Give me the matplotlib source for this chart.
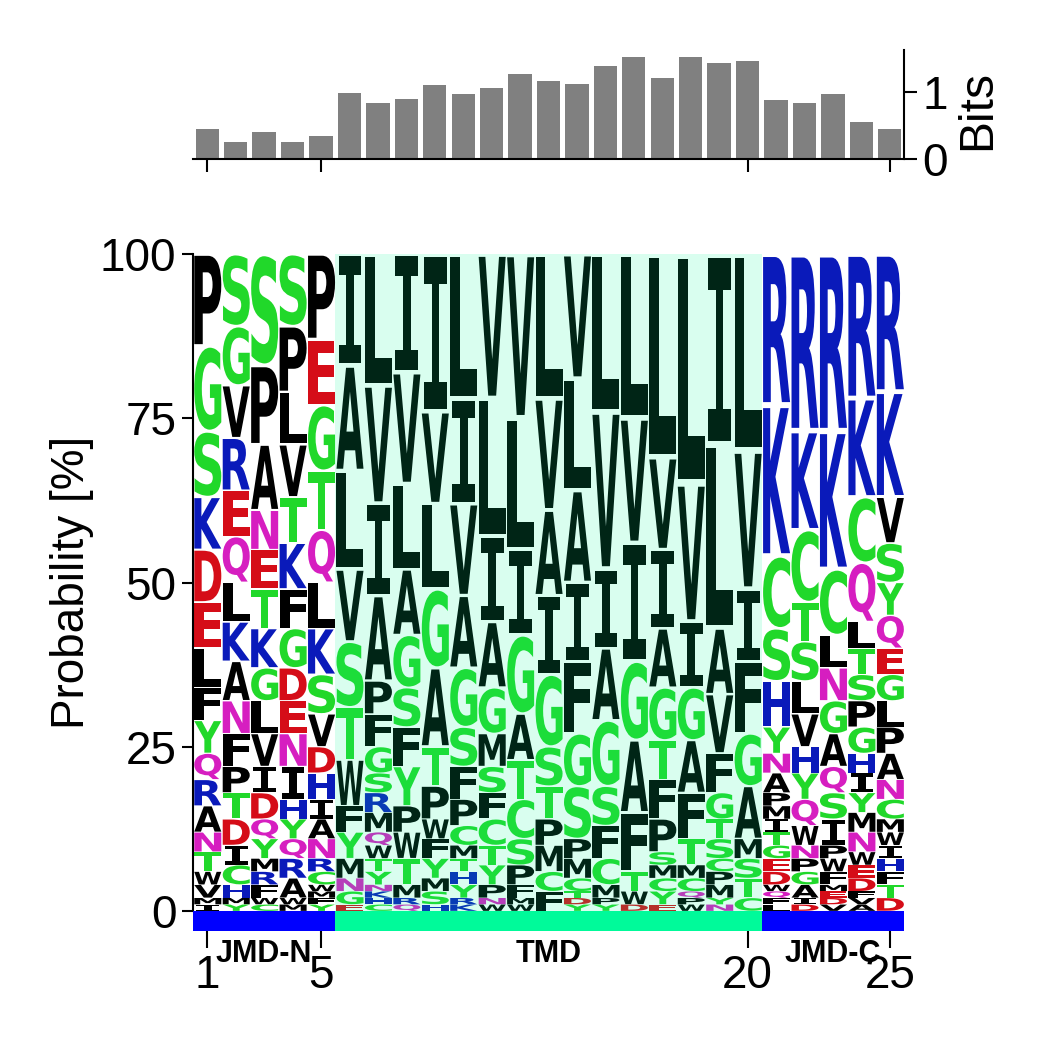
import matplotlib
matplotlib.use("Agg")
import matplotlib.pyplot as plt
from matplotlib.font_manager import FontProperties
from matplotlib.patches import PathPatch
from matplotlib.textpath import TextPath
from matplotlib.transforms import Affine2D

plt.rcParams['font.family'] = ['Liberation Sans', 'DejaVu Sans']

# residues per position, listed from the top of the stack to the bottom
residues = [
    "PGSKDELFYQRANTWVMI", "SGVREQLKANFPTDICHMY", "SPANETKGLVIDQYMRFWC",
    "SPLVTKFGDENIHYQRAWM", "PEGTQLKSVDHIANRCWMFY", "IALVSTWFYMNGE",
    "LVIAPFGSRMQWTYNKHC", "IVLAGSFYPWTMRQ", "IVLGATPWFYMSH",
    "LIVAGSFPCMTHYRK", "VLIAGMSFCTYPNW", "VLIGATCSPFMW", "LVAIGSTPMCF",
    "VLAIFGSPMCTDY", "LVIAGSFCMPY", "LVIGAFTWD", "LVIAGTFPSMCYE",
    "LVIGAFTMCQPW", "ILAVFGTSCPMYN", "LVIFGAMSTC",
    "RKCSHYNAPMITGEDWQFL", "RKCTSLVHYQWNPGAID", "RKCLNGAQSIPWFMEDV",
    "RKCQLTSPGHIYMNWEDFVA", "RKVSYQEGLPANCMWIHFTD",
]
probs = [
    [14, 13, 10, 8, 8, 7, 6, 5, 5, 4, 4, 4, 3, 3, 2, 2, 1, 1],
    [11, 9, 8, 8, 7, 7, 6, 6, 6, 5, 5, 4, 4, 4, 3, 3, 2, 1, 1],
    [17, 12, 10, 6, 6, 6, 6, 5, 5, 5, 4, 4, 3, 3, 2, 2, 2, 1, 1],
    [11, 10, 8, 8, 7, 7, 6, 6, 5, 5, 5, 5, 3, 3, 3, 3, 3, 1, 1],
    [13, 10, 10, 9, 8, 7, 7, 6, 5, 4, 4, 3, 3, 3, 2, 2, 1, 1, 1, 1],
    [17, 16, 15, 11, 10, 8, 7, 4, 4, 3, 2, 2, 1],
    [20, 18, 14, 13, 5, 5, 4, 3, 3, 3, 2, 2, 2, 2, 1, 1, 1, 1],
    [18, 17, 13, 10, 8, 6, 6, 6, 4, 4, 4, 2, 1, 1],
    [24, 14, 13, 12, 12, 6, 5, 3, 3, 3, 2, 2, 1],
    [22, 16, 14, 11, 9, 6, 5, 4, 3, 2, 2, 2, 2, 1, 1],
    [22, 21, 13, 10, 7, 5, 4, 4, 4, 3, 3, 2, 1, 1],
    [25, 20, 13, 12, 7, 6, 6, 4, 3, 2, 1, 1],
    [22, 17, 13, 12, 11, 6, 5, 4, 4, 3, 3],
    [19, 17, 14, 12, 11, 8, 8, 3, 3, 2, 1, 1, 1],
    [24, 24, 12, 11, 10, 6, 5, 4, 2, 1, 1],
    [25, 19, 18, 12, 11, 9, 3, 2, 1],
    [31, 14, 12, 9, 8, 6, 6, 5, 2, 2, 2, 2, 1],
    [35, 21, 10, 8, 8, 7, 4, 2, 2, 1, 1, 1],
    [29, 28, 10, 9, 6, 4, 3, 3, 2, 2, 2, 1, 1],
    [30, 21, 11, 11, 8, 8, 3, 3, 3, 2],
    [23, 23, 11, 8, 7, 4, 3, 3, 2, 2, 2, 2, 2, 2, 2, 1, 1, 1, 1],
    [27, 15, 11, 6, 6, 5, 5, 4, 4, 4, 3, 2, 2, 2, 2, 1, 1],
    [27, 21, 10, 5, 5, 5, 5, 4, 4, 4, 2, 2, 2, 1, 1, 1, 1],
    [22, 15, 10, 9, 4, 4, 4, 4, 4, 3, 3, 3, 3, 3, 2, 2, 2, 1, 1, 1],
    [21, 16, 7, 6, 5, 5, 4, 4, 4, 4, 4, 3, 3, 2, 2, 2, 2, 2, 2, 2],
]
bits = [0.45, 0.26, 0.41, 0.26, 0.35, 0.98, 0.84, 0.90, 1.10, 0.97, 1.06, 1.27,
        1.16, 1.12, 1.39, 1.53, 1.21, 1.52, 1.43, 1.47, 0.88, 0.84, 0.97, 0.56, 0.45]
positions = list(range(1, 26))
pos_ticks = [1, 5, 20, 25]
prob_ticks = [0, 25, 50, 75, 100]
bit_ticks = [0, 1]
regions = [("JMD-N", 0.5, 5.5, "#0000FF"), ("TMD", 5.5, 20.5, "#00FA9A"), ("JMD-C", 20.5, 25.5, "#0000FF")]

GROUPS = {"AFILMPVW": "#000000", "CGSTY": "#21D82A", "DE": "#D50D18",
          "HKR": "#0A1ABA", "NQ": "#D61EC0"}
color_of = {aa: c for group, c in GROUPS.items() for aa in group}

font_bold = FontProperties(family="DejaVu Sans", weight="bold")
font_serif_i = FontProperties(family="DejaVu Sans Mono", weight="bold")


def draw_letter(ax, aa, x, bottom, height):
    # stretch the glyph so it fills its box in the stack
    prop = font_serif_i if aa == "I" else font_bold
    path = TextPath((0, 0), aa, size=1, prop=prop)
    box = path.get_extents()
    width = 0.80 if aa == "I" else 0.95
    h = height * 0.96
    trans = (Affine2D().translate(-box.x0, -box.y0)
             .scale(width / box.width, h / box.height)
             .translate(x - width / 2 + 0.02, bottom + height * 0.02))
    ax.add_patch(PathPatch(path, transform=trans + ax.transData, fc=color_of[aa], lw=0))


def px_axes(fig, left, top, right, bottom):
    return fig.add_axes([left / 1050, 1 - bottom / 1050, (right - left) / 1050, (bottom - top) / 1050])


fig = plt.figure(figsize=(10.5, 10.5), dpi=100)
ax_bits = px_axes(fig, 193, 50, 904, 159)
ax_logo = px_axes(fig, 193, 254, 904, 911)
ax_tmd = px_axes(fig, 193, 911, 904, 931)

# bits on top
ax_bits.bar(positions, bits, width=0.82, color="#808080")
ax_bits.set_xlim(0.5, 25.5)
ax_bits.set_ylim(0, 1.63)
ax_bits.spines[["top", "left"]].set_visible(False)
ax_bits.spines[["bottom", "right"]].set_linewidth(1.5)
ax_bits.yaxis.tick_right()
ax_bits.set_yticks(bit_ticks)
ax_bits.set_xticks(pos_ticks, [""] * len(pos_ticks))
ax_bits.tick_params(axis="y", labelsize=33, length=9, width=1.5, pad=4)
ax_bits.tick_params(axis="x", length=9, width=1.5)
ax_bits.yaxis.set_label_position("right")
ax_bits.set_ylabel("Bits", fontsize=34.5, rotation=90)
ax_bits.yaxis.set_label_coords(1.103, 0.45)
ax_bits.yaxis.label.set_verticalalignment("center")

# stacked letters
for x, letters, values in zip(positions, residues, probs):
    y = 100.0
    for aa, p in zip(letters, values):
        y -= p
        draw_letter(ax_logo, aa, x, y, p)
ax_logo.axvspan(5.5, 20.5, color="#00FA9A", alpha=0.15, lw=0, zorder=10)
ax_logo.set_xlim(0.5, 25.5)
ax_logo.set_ylim(0, 100)
ax_logo.set_xticks([])
ax_logo.set_yticks(prob_ticks)
ax_logo.spines[["top", "right", "bottom"]].set_visible(False)
ax_logo.spines["left"].set_linewidth(1.5)
ax_logo.tick_params(axis="y", labelsize=33, length=8, width=1.5, pad=4)
ax_logo.set_ylabel("Probability [%]", fontsize=33)
ax_logo.yaxis.set_label_coords(-0.17, 0.5)
ax_logo.yaxis.label.set_verticalalignment("center")

# region strip
for name, start, stop, color in regions:
    ax_tmd.axvspan(start, stop, color=color, lw=0)
    ax_tmd.text((start + stop) / 2, -1.13, name, fontsize=22, fontweight="bold", ha="center", va="center")
ax_tmd.set_xlim(0.5, 25.5)
ax_tmd.set_ylim(0, 1)
ax_tmd.set_yticks([])
ax_tmd.set_xticks(pos_ticks)
ax_tmd.tick_params(axis="x", labelsize=33, length=12.5, width=1.5, pad=4)
for side in ax_tmd.spines.values():
    side.set_visible(False)

fig.savefig("out.png", dpi=100)
